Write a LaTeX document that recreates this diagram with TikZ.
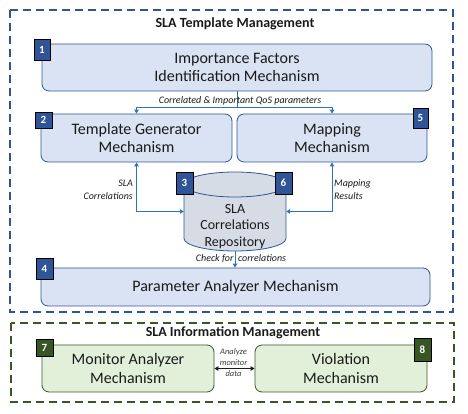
\documentclass[tikz,border=0pt]{standalone}
\usepackage{fontspec}
\setmainfont{Carlito}
\usetikzlibrary{arrows.meta}
\definecolor{bfill}{HTML}{DAE3F3}
\definecolor{bline}{HTML}{2F5597}
\definecolor{conn}{HTML}{2E75B6}
\definecolor{cfill}{HTML}{D6DCE5}
\definecolor{gfill}{HTML}{E2F0D9}
\definecolor{gline}{HTML}{385723}
\definecolor{gbadge}{HTML}{375623}
\definecolor{txt}{HTML}{1A1A1A}
\begin{document}
\begin{tikzpicture}[x=1pt,y=1pt,
  bbox/.style={draw=bline, fill=bfill, rounded corners=7pt, line width=0.8pt, inner sep=0pt,
    align=center, text=txt, font=\fontsize{16}{18.5}\selectfont},
  gbox/.style={draw=gline, fill=gfill, rounded corners=7pt, line width=0.8pt, inner sep=0pt,
    align=center, text=txt, font=\fontsize{16}{19}\selectfont},
  badge/.style={draw=black, fill=bline, line width=0.8pt, inner sep=0pt, text=white,
    font=\fontsize{11}{11}\selectfont\bfseries},
  gbadgest/.style={badge, fill=gbadge},
  frame/.style={line width=1.8pt, dash pattern=on 8pt off 5pt},
  title/.style={font=\fontsize{14}{16}\selectfont\bfseries, text=txt},
  lbl/.style={font=\fontsize{10}{13}\selectfont\itshape, text=txt, inner sep=0pt},
  cn/.style={draw=conn, line width=0.9pt, -{Triangle[width=4.5pt,length=4pt]}},
  cn2/.style={draw=conn, line width=0.9pt, {Triangle[width=4.5pt,length=4pt]}-{Triangle[width=4.5pt,length=4pt]}},
]
\useasboundingbox (0,0) rectangle (468,414);

% frames
\draw[frame, draw=bline] (10,404) rectangle (453,102);
\draw[frame, draw=gline] (11,91) rectangle (454,12);
\node[title] (t1) at (235,390) {SLA Template Management};
\node[title] (t2) at (233,81) {SLA Information Management};

% boxes
\node[bbox, minimum width=390, minimum height=47] (b1) at (237,346.5) {Importance Factors\\Identification Mechanism};
\node[bbox, minimum width=191, minimum height=48] (b2) at (136.5,276) {Template Generator\\Mechanism};
\node[bbox, minimum width=190, minimum height=48] (b5) at (332,276) {Mapping\\Mechanism};
\node[bbox, minimum width=389, minimum height=38] (b4) at (235.5,127) {Parameter Analyzer Mechanism};
\node[gbox, minimum width=172, minimum height=47] (b7) at (128,45.5) {Monitor Analyzer\\Mechanism};
\node[gbox, minimum width=172, minimum height=47] (b8) at (341,45.5) {Violation\\Mechanism};

% cylinder
\fill[cfill] (184,229.5) -- (184,175.5) arc[start angle=180,end angle=360,x radius=51,y radius=12.5]
  -- (286,229.5) arc[start angle=0,end angle=180,x radius=51,y radius=12.5] -- cycle;
\draw[bline, line width=0.8pt] (184,229.5) -- (184,175.5) arc[start angle=180,end angle=360,x radius=51,y radius=12.5] -- (286,229.5);
\draw[bline, line width=0.8pt] (235,229.5) ellipse [x radius=51, y radius=12.5];
\node[minimum width=102, minimum height=79, inner sep=0pt] (repo) at (235,202.5) {};
\node[align=center, text=txt, font=\fontsize{14}{16.7}\selectfont, inner sep=0pt] (repot) at (235,187.5) {SLA\\Correlations\\Repository};

% connectors
\draw[cn] (b1.south) -- ++(0,-16) -| (b2.north);
\draw[cn] (b1.south) -- ++(0,-16) -| (b5.north);
\node[lbl] (l1) at (240,313.5) {Correlated \& Important QoS parameters};

\draw[cn2] (repo.west) -| (b2.south);
\draw[cn2] (repo.east) -| (b5.south);
\node[lbl, align=right, anchor=east] (l2) at (133,224.5) {SLA\\Correlations};
\node[lbl, align=left, anchor=west] (l3) at (334,224.5) {Mapping\\Results};

\draw[cn] (repo.south) -- (repo.south |- b4.north);
\node[lbl] (l4) at (241,155) {Check for~ correlations};

\draw[draw=txt, line width=0.9pt, {Triangle[width=4.5pt,length=4pt]}-{Triangle[width=4.5pt,length=4pt]}] (b7.east) -- (b8.west);
\node[align=center, font=\fontsize{8.5}{11}\selectfont\itshape, text=txt!85, inner sep=0pt] (l5) at (233.5,51.8) {Analyze\\monitor\\data};

% badges
\node[badge, minimum width=16, minimum height=21] (n1) at (42,364.5) {1};
\node[badge, minimum width=17, minimum height=16] (n2) at (43.5,294) {2};
\node[badge, minimum width=17, minimum height=22] (n3) at (184.5,231) {3};
\node[badge, minimum width=17, minimum height=21] (n4) at (44.5,145.5) {4};
\node[badge, minimum width=15, minimum height=20] (n5) at (420.5,296) {5};
\node[badge, minimum width=17, minimum height=22] (n6) at (283.5,231) {6};
\node[gbadgest, minimum width=17, minimum height=17] (n7) at (44.5,66.5) {7};
\node[gbadgest, minimum width=17, minimum height=23] (n8) at (422.5,64.5) {8};
\end{tikzpicture}
\end{document}
